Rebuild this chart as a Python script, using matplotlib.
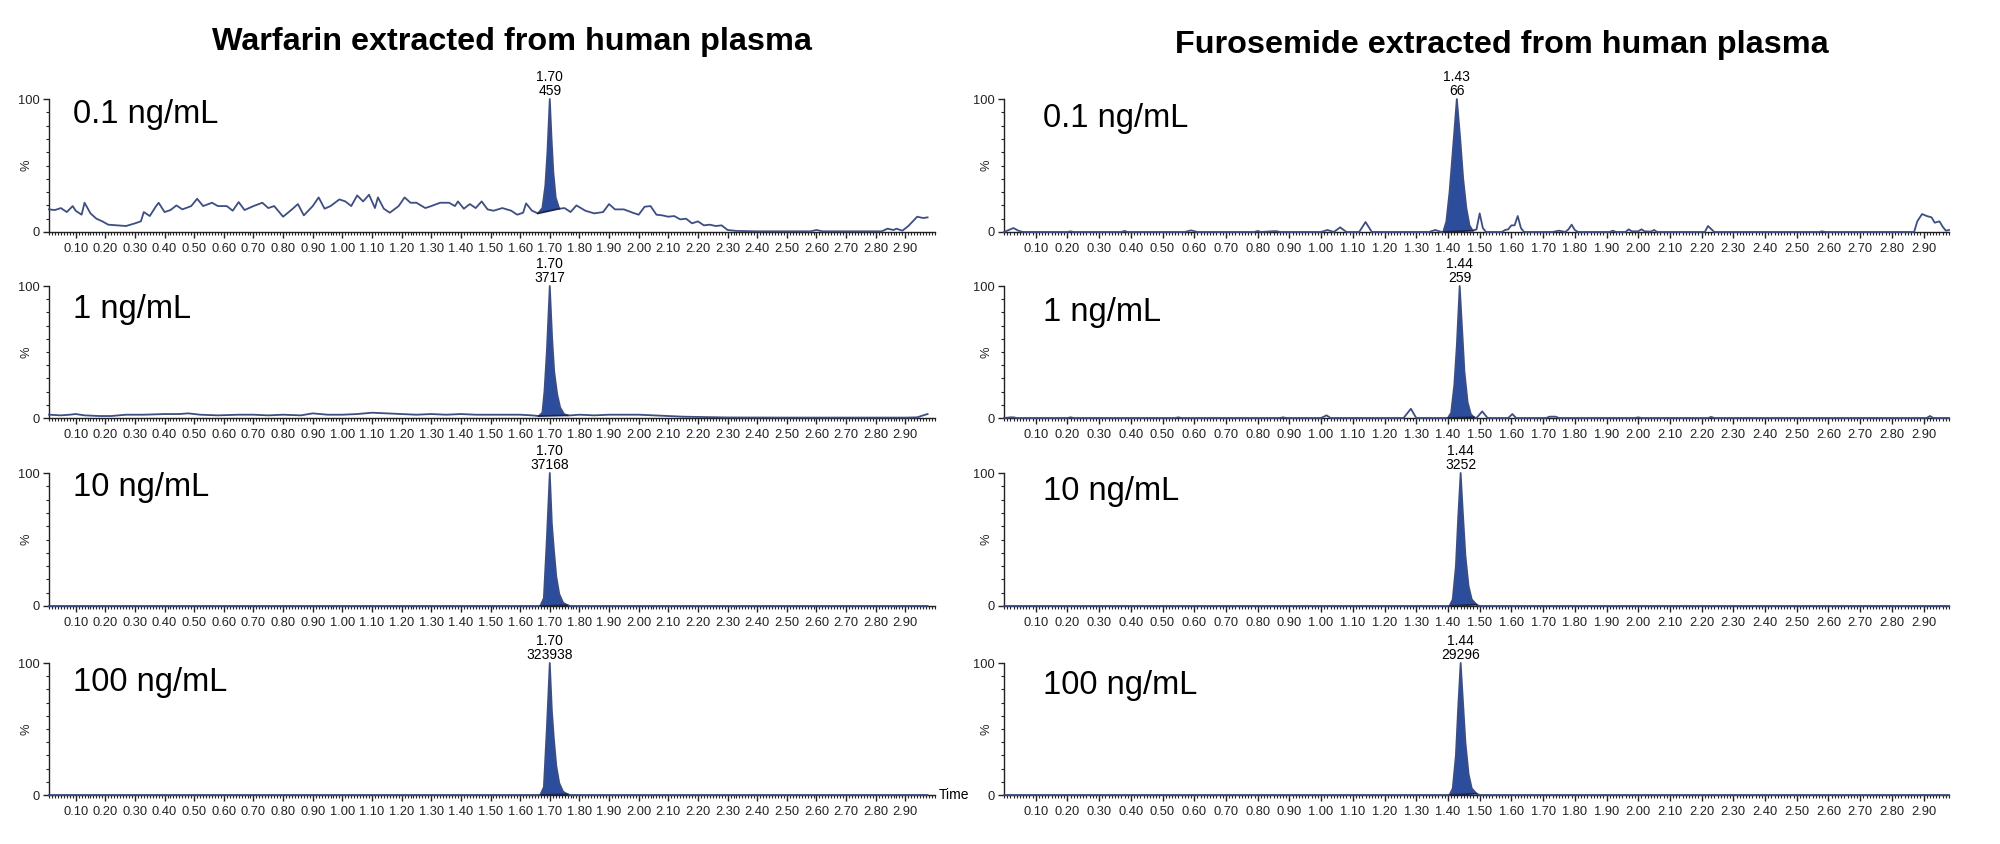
import matplotlib
matplotlib.use('Agg')
import matplotlib.pyplot as plt
from matplotlib import font_manager
from matplotlib.ticker import MultipleLocator, FixedLocator
import numpy as np

plt.rcParams['font.family'] = ['Liberation Sans', 'DejaVu Sans']

# narrow font for tick labels if it is there, else a smaller regular one
_names = set(f.name for f in font_manager.fontManager.ttflist)
if 'Liberation Sans Narrow' in _names:
    NARROW = ['Liberation Sans Narrow', 'Liberation Sans']
    TICK_FS = 10.5
else:
    NARROW = ['Liberation Sans', 'DejaVu Sans']
    TICK_FS = 9.3

LINE = '#3d4e82'
FILL = '#2c4d9c'
BASE = '#1b2452'

titles = ['Warfarin extracted from human plasma', 'Furosemide extracted from human plasma']
conc_labels = ['0.1 ng/mL', '1 ng/mL', '10 ng/mL', '100 ng/mL']

# ---------------- Warfarin (left column) ----------------
# 0.1 ng/mL: noisy baseline (%), peak read separately
w01_base_t = [0.01, 0.03, 0.05, 0.07, 0.09, 0.10, 0.12, 0.13, 0.15, 0.17, 0.19, 0.21, 0.24, 0.27,
              0.30, 0.32, 0.33, 0.35, 0.37, 0.38, 0.40, 0.42, 0.44, 0.46, 0.49, 0.51, 0.53, 0.56,
              0.58, 0.61, 0.63, 0.65, 0.67, 0.70, 0.73, 0.75, 0.77, 0.80, 0.83, 0.85, 0.87, 0.90,
              0.92, 0.94, 0.96, 0.99, 1.01, 1.03, 1.05, 1.07, 1.09, 1.11, 1.12, 1.14, 1.16, 1.19,
              1.21, 1.23, 1.25, 1.28, 1.30, 1.33, 1.36, 1.38, 1.39, 1.41, 1.43, 1.45, 1.47, 1.49,
              1.51, 1.54, 1.57, 1.59, 1.61, 1.62, 1.64,
              1.75, 1.77, 1.79, 1.82, 1.85, 1.88, 1.90, 1.92, 1.95, 1.98, 2.00, 2.02, 2.04, 2.06,
              2.08, 2.10, 2.12, 2.14, 2.16, 2.18, 2.20, 2.22, 2.24, 2.26, 2.28, 2.30, 2.33, 2.40,
              2.50, 2.58, 2.60, 2.62, 2.75, 2.82, 2.84, 2.86, 2.87, 2.89, 2.91, 2.94, 2.96, 2.975]
w01_base_y = [17, 16.5, 18, 15, 19.5, 16, 13, 22, 14, 10, 8, 5.5, 5, 4.5,
              6.5, 8, 15, 12, 19, 22, 15, 16.5, 20, 17, 19.5, 25, 19.5, 22,
              19.5, 19.5, 16, 22.5, 16.5, 19.5, 22, 18, 19.5, 11.5, 17, 21, 12.5, 19.5,
              26, 17.5, 19.5, 24.5, 23, 19.5, 27.5, 23, 28, 18, 26, 17.5, 14.5, 19.5,
              26, 22, 22, 18, 19.5, 22, 22, 19.5, 23, 17.5, 21, 18, 23, 17,
              16, 18, 16, 13, 14.5, 21.5, 16,
              18, 15, 20, 16, 14, 15, 21, 17, 17, 14.5, 13, 19, 19.5, 13,
              12.5, 11.5, 12, 9.5, 10, 6.5, 8, 5, 5.5, 4.5, 5, 1.5, 0.8, 0.5,
              0.5, 0.5, 1.5, 0.5, 0.5, 0.5, 2.5, 1.5, 2.5, 1, 4.5, 11.5, 10.5, 11]
w01_peak_t = [1.660, 1.675, 1.685, 1.692, 1.700, 1.706, 1.712, 1.720, 1.732]
w01_peak_y = [14, 18, 35, 60, 100, 70, 45, 26, 17.5]

# 1 ng/mL
w1_base_t = [0.01, 0.05, 0.08, 0.10, 0.13, 0.18, 0.22, 0.27, 0.33, 0.40, 0.45, 0.48, 0.52, 0.58,
             0.65, 0.70, 0.75, 0.80, 0.86, 0.90, 0.95, 1.00, 1.05, 1.10, 1.15, 1.20, 1.25, 1.30,
             1.35, 1.40, 1.45, 1.50, 1.55, 1.60, 1.64,
             1.77, 1.80, 1.85, 1.90, 2.00, 2.05, 2.10, 2.15, 2.20, 2.30, 2.50, 2.80, 2.90, 2.94,
             2.96, 2.975]
w1_base_y = [2.5, 2, 2.5, 3, 2, 1.5, 1.5, 2.5, 2.5, 3, 3, 3.5, 2.5, 2,
             2.5, 2.5, 2, 2.5, 2, 3.5, 2.5, 2.5, 3, 4, 3.5, 3, 2.5, 3,
             2.5, 3, 2.5, 2.5, 2.5, 2.5, 2,
             2, 2.5, 2, 2.5, 2.5, 2, 1.5, 1, 0.8, 0.4, 0.3, 0.3, 0.3, 0.5,
             2, 3]
w1_peak_t = [1.663, 1.675, 1.682, 1.690, 1.700, 1.708, 1.715, 1.725, 1.735, 1.748, 1.760]
w1_peak_y = [1.5, 4, 20, 50, 100, 60, 35, 18, 8, 3, 2]

# 10 ng/mL
w10_base_t = [0.01, 1.66, 1.77, 2.975]
w10_base_y = [0, 0, 0, 0]
w10_peak_t = [1.668, 1.680, 1.690, 1.700, 1.707, 1.714, 1.722, 1.732, 1.745, 1.760]
w10_peak_y = [0, 6, 50, 100, 62, 42, 22, 9, 2.5, 0.5]

# 100 ng/mL
w100_base_t = [0.01, 1.66, 1.77, 2.975]
w100_base_y = [0, 0, 0, 0]
w100_peak_t = [1.668, 1.680, 1.690, 1.700, 1.707, 1.714, 1.722, 1.732, 1.745, 1.760]
w100_peak_y = [0, 6, 50, 100, 64, 42, 22, 9, 2.5, 0.5]

# ---------------- Furosemide (right column) ----------------
f01_base_t = [0.00, 0.02, 0.03, 0.045, 0.06, 0.20, 0.21, 0.22, 0.37, 0.38, 0.39, 0.57, 0.59, 0.61,
              0.79, 0.80, 0.81, 0.85, 0.86, 0.87, 1.00, 1.02, 1.04, 1.06, 1.08, 1.12, 1.14, 1.16,
              1.34, 1.36, 1.38,
              1.49, 1.50, 1.51, 1.52, 1.57, 1.58, 1.59, 1.60, 1.61, 1.62, 1.63, 1.64, 1.73, 1.75,
              1.77, 1.78, 1.79, 1.80, 1.81, 1.91, 1.92, 1.93, 1.96, 1.97, 1.98, 2.00, 2.01, 2.02,
              2.04, 2.05, 2.06, 2.21, 2.22, 2.24, 2.57, 2.58, 2.59, 2.87, 2.88, 2.895, 2.91, 2.925,
              2.935, 2.95, 2.96, 2.97, 2.98]
f01_base_y = [0, 2, 3, 1, 0, 0, 0.5, 0, 0, 0.8, 0, 0, 1.2, 0,
              0, 0.8, 0, 0.6, 0.6, 0, 0, 1.5, 0, 3.5, 0, 0, 7.5, 0,
              0, 1.5, 0,
              2, 14, 3, 0, 0, 1.5, 2, 5, 5, 12, 3, 0, 0, 1,
              0, 2, 5.5, 1.5, 0, 0, 1, 0, 0, 2, 0.5, 0.5, 2, 0.5,
              0.3, 1.5, 0, 0, 4.5, 0, 0, 0.5, 0, 0, 8, 13.5, 12, 11,
              7, 8, 4, 1, 1.5]
f01_peak_t = [1.385, 1.395, 1.405, 1.415, 1.428, 1.438, 1.448, 1.458, 1.468, 1.478]
f01_peak_y = [0, 8, 30, 60, 100, 72, 40, 18, 5, 1]

f1_base_t = [0.00, 0.02, 0.03, 0.04, 0.20, 0.21, 0.22, 0.54, 0.55, 0.56, 0.87, 0.88, 0.89, 1.00,
             1.017, 1.03, 1.26, 1.283, 1.30,
             1.49, 1.508, 1.525, 1.59, 1.603, 1.615, 1.71, 1.72, 1.74, 1.75, 1.99, 2.00, 2.01,
             2.22, 2.23, 2.24, 2.91, 2.92, 2.93, 2.98]
f1_base_y = [0, 0.5, 0.5, 0, 0, 0.5, 0, 0, 0.5, 0, 0, 0.5, 0, 0,
             2, 0, 0, 7, 0,
             0, 5, 0, 0, 3, 0, 0, 1, 1, 0, 0, 0.5, 0,
             0, 0.8, 0, 0, 1.5, 0, 0]
f1_peak_t = [1.400, 1.410, 1.420, 1.428, 1.437, 1.444, 1.452, 1.462, 1.472, 1.482]
f1_peak_y = [0, 4, 25, 55, 100, 70, 35, 12, 3, 0.5]

f10_base_t = [0.00, 1.40, 1.50, 2.98]
f10_base_y = [0, 0, 0, 0]
f10_peak_t = [1.405, 1.415, 1.425, 1.432, 1.440, 1.447, 1.455, 1.465, 1.475, 1.490]
f10_peak_y = [0, 5, 30, 65, 100, 70, 38, 15, 5, 1]

f100_base_t = [0.00, 1.40, 1.50, 2.98]
f100_base_y = [0, 0, 0, 0]
f100_peak_t = [1.405, 1.415, 1.425, 1.432, 1.440, 1.447, 1.455, 1.465, 1.475, 1.490]
f100_peak_y = [0, 5, 30, 65, 100, 72, 40, 16, 5, 1]

# peak labels: retention time, area
w_rt = ['1.70', '1.70', '1.70', '1.70']
w_area = ['459', '3717', '37168', '323938']
f_rt = ['1.43', '1.44', '1.44', '1.44']
f_area = ['66', '259', '3252', '29296']

warf = [(w01_base_t, w01_base_y, w01_peak_t, w01_peak_y),
        (w1_base_t, w1_base_y, w1_peak_t, w1_peak_y),
        (w10_base_t, w10_base_y, w10_peak_t, w10_peak_y),
        (w100_base_t, w100_base_y, w100_peak_t, w100_peak_y)]
furo = [(f01_base_t, f01_base_y, f01_peak_t, f01_peak_y),
        (f1_base_t, f1_base_y, f1_peak_t, f1_peak_y),
        (f10_base_t, f10_base_y, f10_peak_t, f10_peak_y),
        (f100_base_t, f100_base_y, f100_peak_t, f100_peak_y)]

# ---------------- layout (pixels of a 2000x844 canvas) ----------------
W, H = 2000, 844
row_top = [99, 286, 473, 663]
row_bot = [232, 418, 606, 795]
col_x0 = [49, 1004]
col_x1 = [935, 1949]
xlims = [(0.01, 3.0), (0.0, 2.98)]
pct_off = [-17, -12]   # "%" label offset from the y axis, px
label_pos = [[(0.027, 0.88), (0.027, 0.82), (0.027, 0.89), (0.027, 0.855)],
             [(0.041, 0.85), (0.041, 0.80), (0.041, 0.86), (0.041, 0.83)]]

fig = plt.figure(figsize=(20, 8.44), dpi=100)


def draw(ax, trace, rt, area, label, lpos, xlim, pct_dx):
    bt, by, pt, py = trace
    t = np.array(list(bt) + list(pt))
    y = np.array(list(by) + list(py))
    o = np.argsort(t)
    ax.fill(pt, py, color=FILL, lw=0, zorder=3)
    ax.plot(t[o], y[o], color=LINE, lw=1.3, zorder=4, clip_on=False)
    ax.plot([pt[0], pt[-1]], [py[0], py[-1]], color=BASE, lw=1.3, zorder=5)
    ipk = int(np.argmax(py))
    ax.annotate(rt + '\n' + area, xy=(pt[ipk], py[ipk]), xytext=(0, 1),
                textcoords='offset points', ha='center', va='bottom',
                fontsize=10, family=NARROW, linespacing=0.95, annotation_clip=False)
    ax.text(lpos[0], lpos[1], label, transform=ax.transAxes, fontsize=23.5,
            ha='left', va='center')

    ax.set_xlim(*xlim)
    ax.set_ylim(0, 100)
    for s in ['top', 'right']:
        ax.spines[s].set_visible(False)
    for s in ['left', 'bottom']:
        ax.spines[s].set_linewidth(1.0)
        ax.spines[s].set_color('#222222')
    ticks = np.round(np.arange(0.1, 2.95, 0.1), 2)
    ax.xaxis.set_major_locator(FixedLocator(ticks))
    ax.xaxis.set_minor_locator(MultipleLocator(0.01))
    ax.set_xticklabels(['%.2f' % v for v in ticks])
    ax.yaxis.set_major_locator(FixedLocator([0, 100]))
    ax.yaxis.set_minor_locator(MultipleLocator(10))
    ax.tick_params(axis='both', which='major', length=4, width=1, direction='out',
                   labelsize=TICK_FS, pad=3, color='#222222', labelcolor='#222222')
    ax.tick_params(axis='x', which='major', pad=4)
    ax.tick_params(axis='both', which='minor', length=2.2, width=0.8, direction='out',
                   color='#222222')
    for lab in ax.get_xticklabels() + ax.get_yticklabels():
        lab.set_family(NARROW)
    ax.set_ylabel('%', fontsize=TICK_FS, family=NARROW, color='#222222')
    ax_w = ax.get_position().width * W
    ax.yaxis.set_label_coords(pct_dx / ax_w, 0.5)


for c, data in enumerate([warf, furo]):
    rts = [w_rt, f_rt][c]
    areas = [w_area, f_area][c]
    for r in range(4):
        ax = fig.add_axes([col_x0[c] / W, 1 - row_bot[r] / H,
                           (col_x1[c] - col_x0[c]) / W, (row_bot[r] - row_top[r]) / H])
        draw(ax, data[r], rts[r], areas[r], conc_labels[r], label_pos[c][r], xlims[c],
             pct_off[c])
        if c == 0 and r == 3:
            ax.text(1.004, 0, 'Time', transform=ax.transAxes, ha='left', va='center',
                    fontsize=10, family=NARROW)

fig.text(512 / W, 1 - 42 / H, titles[0], ha='center', va='center', fontsize=23.3,
         fontweight='bold')
fig.text(1502 / W, 1 - 45 / H, titles[1], ha='center', va='center', fontsize=23.3,
         fontweight='bold')

fig.savefig('out.png', dpi=100, facecolor='white')
